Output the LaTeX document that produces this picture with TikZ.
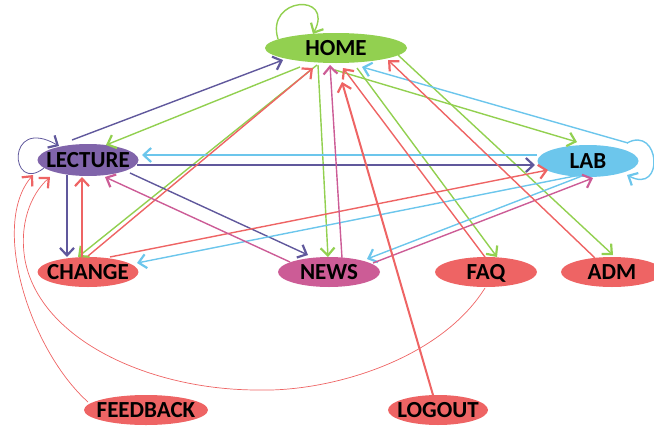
\documentclass[tikz,border=0pt]{standalone}
\usepackage{fontspec}
\setmainfont{Carlito}
\usetikzlibrary{arrows.meta,calc,shapes.geometric}
\definecolor{homegreen}{RGB}{146,208,80}
\definecolor{lecpurple}{RGB}{128,100,170}
\definecolor{lecline}{RGB}{96,88,156}
\definecolor{labblue}{RGB}{108,198,236}
\definecolor{pagered}{RGB}{238,100,100}
\definecolor{newspink}{RGB}{204,92,150}

\begin{document}
\begin{tikzpicture}[x=1pt,y=-1pt,
  page/.style={ellipse,inner xsep=-15pt,inner ysep=0pt,text height=15pt,text depth=0pt,
    minimum width=101pt,minimum height=30pt,font=\bfseries\fontsize{23}{23}\selectfont},
  link/.style={-{Straight Barb[length=7.5pt,width=14pt,line width=2.2pt]},line width=1.4pt},
  faint/.style={link,line width=0.7pt}]
\useasboundingbox (0,0) rectangle (654,426);

\node[page,fill=homegreen,minimum width=142pt] (HOME) at (336,48) {HOME};
\node[page,fill=lecpurple,minimum height=32pt] (LECTURE) at (88,160) {LECTURE};
\node[page,fill=labblue,minimum height=32pt] (LAB) at (588,161) {LAB};
\node[page,fill=pagered] (CHANGE) at (88,272) {CHANGE};
\node[page,fill=newspink,minimum width=102pt] (NEWS) at (329,272) {NEWS};
\node[page,fill=pagered,minimum width=102pt] (FAQ) at (486,272) {FAQ};
\node[page,fill=pagered,minimum width=102pt] (ADM) at (612,272) {ADM};
\node[page,fill=pagered,minimum width=124pt] (FEEDBACK) at (146,410) {FEEDBACK};
\node[page,fill=pagered,minimum width=100pt] (LOGOUT) at (438,410) {LOGOUT};

\draw[link,homegreen] ($(HOME)+(-58,-9)$) .. controls +(-13,-42) and +(22,-42) .. ($(HOME)+(-23,-14)$);
\draw[link,homegreen] ($(HOME)+(-36,19)$) -- ($(LECTURE)+(18,-15)$);
\draw[link,homegreen] ($(HOME)+(-19,17)$) -- ($(CHANGE)+(-10,-15)$);
\draw[link,homegreen] ($(HOME)+(-18,17)$) -- ($(NEWS)+(-1,-15)$);
\draw[link,homegreen] ($(HOME)+(-1,22)$) -- ($(LAB)+(-11,-19)$);
\draw[link,homegreen] ($(HOME)+(21,20)$) -- ($(FAQ)+(11,-15)$);
\draw[link,homegreen] ($(HOME)+(62,7)$) -- ($(ADM)+(1,-17)$);

\draw[link,lecline,line width=0.8pt] ($(LECTURE)+(-44,8)$) .. controls +(-34,27) and +(-54,-31) .. ($(LECTURE)+(-29,-14)$);
\draw[link,lecline] ($(LECTURE)+(-16,-20)$) -- ($(HOME)+(-53,12)$);
\draw[link,lecline] ($(LECTURE)+(49,5)$) -- ($(LAB)+(-53,4)$);
\draw[link,lecline] ($(LECTURE)+(-21,15)$) -- ($(CHANGE)+(-21,-15)$);
\draw[link,lecline] ($(LECTURE)+(42,13)$) -- ($(NEWS)+(-21,-17)$);

\draw[link,labblue] ($(LAB)+(39,-18)$) .. controls +(33,-18) and +(38,20) .. ($(LAB)+(39,14)$);
\draw[link,labblue] ($(LAB)+(40,-18)$) -- ($(HOME)+(26,19)$);
\draw[link,labblue] ($(LAB)+(-51,-6)$) -- ($(LECTURE)+(54,-5)$);
\draw[link,labblue] ($(LAB)+(-8,14)$) -- ($(CHANGE)+(49,-9)$);
\draw[link,labblue] ($(LAB)+(-6,15)$) -- ($(NEWS)+(38,-13)$);

\draw[link,pagered] ($(CHANGE)+(-6,-15)$) -- ($(LECTURE)+(-6,17)$);
\draw[link,pagered] ($(CHANGE)+(0,-16)$) -- ($(HOME)+(-23,20)$);
\draw[link,pagered] ($(CHANGE)+(22,-15)$) -- ($(LAB)+(-40,9)$);

\draw[link,newspink] ($(NEWS)+(13,-14)$) -- ($(HOME)+(-6,17)$);
\draw[link,newspink] ($(NEWS)+(-39,-10)$) -- ($(LECTURE)+(17,17)$);
\draw[link,newspink] ($(NEWS)+(44,-9)$) -- ($(LAB)+(5,17)$);

\draw[link,pagered] ($(FAQ)+(-1,-15)$) -- ($(HOME)+(7,20)$);
\draw[faint,pagered] ($(FAQ)+(-1,16)$) .. controls (440,360) and (330,392) .. (258,390)
  .. controls (150,390) and (40,340) .. (25,260)
  .. controls (19,225) and (30,195) .. ($(LECTURE)+(-38,17)$);
\draw[link,pagered] ($(ADM)+(-17,-14)$) -- ($(HOME)+(52,12)$);
\draw[faint,pagered] ($(FEEDBACK)+(-58,-8)$) .. controls (30,350) and (-10,225) .. ($(LECTURE)+(-55,15)$);
\draw[link,pagered,line width=2pt] ($(LOGOUT)+(-5,-15)$) -- ($(HOME)+(6,34)$);
\end{tikzpicture}
\end{document}
